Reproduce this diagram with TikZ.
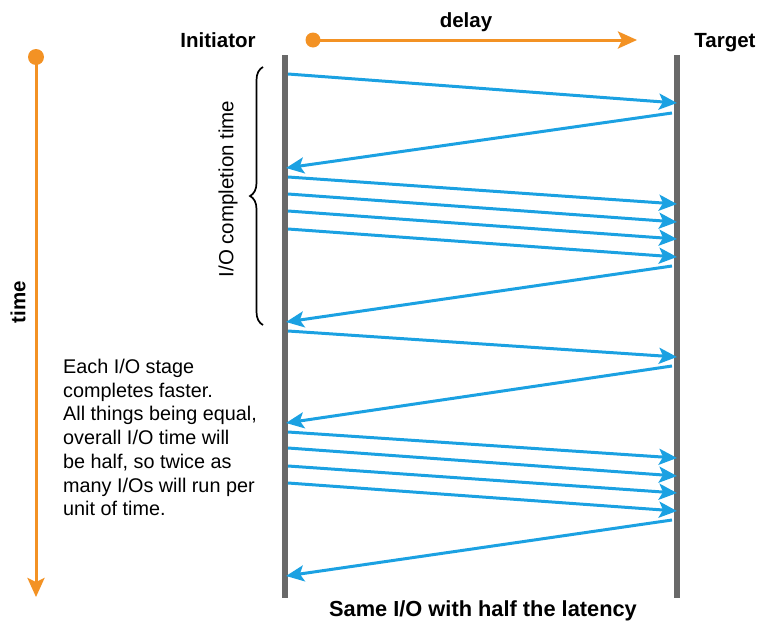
\documentclass[tikz,border=0pt]{standalone}
\usepackage{fontspec}
\setmainfont{Liberation Sans}
\usetikzlibrary{arrows.meta,decorations.pathreplacing}
\definecolor{ioblue}{RGB}{27,161,226}
\definecolor{ioorange}{RGB}{243,146,36}
\definecolor{bargray}{RGB}{105,105,105}
\begin{document}
\begin{tikzpicture}[x=1pt,y=-1pt,
  bar/.style={line width=5.5pt, draw=bargray},
  msg/.style={line width=3pt, draw=ioblue, -{Stealth[length=18pt,width=16pt,inset=4pt]}},
  oarrow/.style={line width=3pt, draw=ioorange, -{Stealth[length=19pt,width=17pt,inset=4pt]}},
  odot/.style={circle, fill=ioorange, inner sep=0pt},
  lbl/.style={font=\fontsize{20.5}{24}\selectfont\bfseries, inner sep=0pt},
  body/.style={font=\fontsize{19.8}{23.7}\selectfont, inner sep=0pt, align=left}]
\useasboundingbox (0,0) rectangle (760,624);
% bars
\coordinate (itop) at (285,55);
\coordinate (ibot) at (285,598);
\coordinate (ttop) at (677,55);
\coordinate (tbot) at (677,598);
\draw[bar] (itop) -- (ibot);
\draw[bar] (ttop) -- (tbot);
% labels
\node[lbl, anchor=base] (init) at (218,47) {Initiator};
\node[lbl, anchor=base] (targ) at (725,47) {Target};
\node[lbl, anchor=base] (delay) at (466,27) {delay};
\node[lbl, anchor=base, font=\fontsize{21.8}{24}\selectfont\bfseries] (cap) at (483,616) {Same I/O with half the latency};
\node[lbl, rotate=90] (timel) at (18,302) {time};
% delay arrow
\node[odot, minimum size=15pt] (dd) at (313,40) {};
\coordinate (de) at (637,40);
\draw[oarrow] (dd.center) -- (de);
% time arrow
\node[odot, minimum size=16pt] (td) at (36,57) {};
\coordinate (te) at (36,597);
\draw[oarrow] (td.center) -- (te);
% brace
\coordinate (bb) at (263,325);
\coordinate (bt) at (263,67);
\draw[decorate, decoration={brace, amplitude=13pt}, line width=1.7pt] (bb) -- (bt);
\node[body, rotate=90, font=\fontsize{20.5}{24}\selectfont] (ioc) at (228,189) {I/O completion time};
% text block
\node[body, anchor=north west] (txt) at (63,359) {Each I/O stage\\completes faster.\\All things being equal,\\overall I/O time will\\be half, so twice as\\many I/Os will run per\\unit of time.};
% forward messages
\foreach \n/\a/\b in {1/74/103, 2/177/204, 3/194/222, 4/211/239, 5/229/257, 6/331/357, 7/432/458, 8/448/476, 9/466/493, 10/483/511}{
  \coordinate (fs\n) at (288,\a);
  \coordinate (fe\n) at (677,\b);
  \draw[msg] (fs\n) -- (fe\n);
}
% returns
\foreach \n/\a/\b in {1/113/168, 2/266/322, 3/366/423, 4/520/576}{
  \coordinate (rs\n) at (672,\a);
  \coordinate (re\n) at (286,\b);
  \draw[msg] (rs\n) -- (re\n);
}
\end{tikzpicture}
\end{document}
